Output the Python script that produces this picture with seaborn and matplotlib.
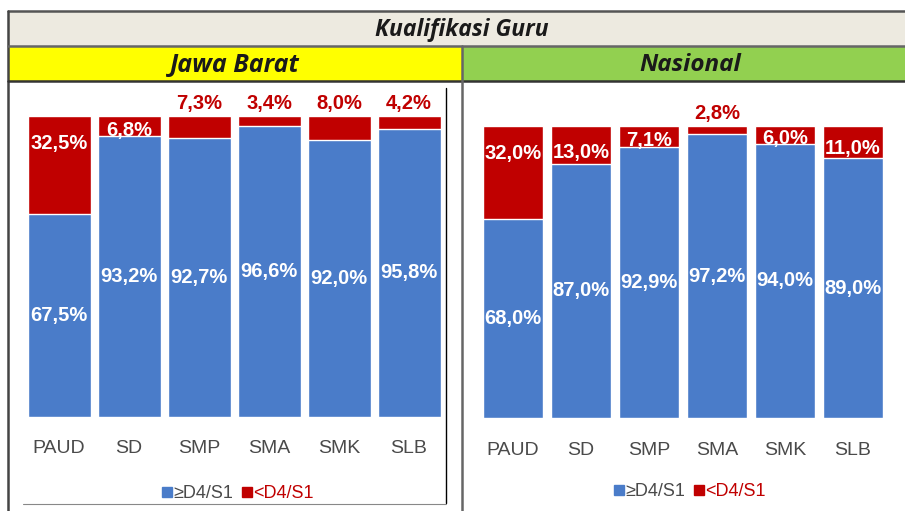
import matplotlib
matplotlib.use('Agg')
import matplotlib.pyplot as plt
from matplotlib.patches import Rectangle
from matplotlib.lines import Line2D
import seaborn as sns
import pandas as pd

# data
categories = ['PAUD', 'SD', 'SMP', 'SMA', 'SMK', 'SLB']
jabar_ge = [67.5, 93.2, 92.7, 96.6, 92.0, 95.8]
jabar_lt = [32.5, 6.8, 7.3, 3.4, 8.0, 4.2]
nas_ge = [68.0, 87.0, 92.9, 97.2, 94.0, 89.0]
nas_lt = [32.0, 13.0, 7.1, 2.8, 6.0, 11.0]
legend_labels = ['\u2265D4/S1', '<D4/S1']
title = 'Kualifikasi Guru'
panel_titles = ['Jawa Barat', 'Nasional']

# where the small red labels sit (above the bar or inside its top)
jabar_lt_above = [False, False, True, True, True, True]
nas_lt_above = [False, False, False, True, False, False]

BLUE = '#4A7CC9'
RED = '#C00000'
W, H = 905, 511
FONT = ['Liberation Sans Narrow', 'Liberation Sans', 'DejaVu Sans']
HEAD = ['Open Sans', 'DejaVu Sans']

sns.set_theme(style='white')
plt.rcParams['font.family'] = FONT

fig = plt.figure(figsize=(W / 100, H / 100), dpi=100)
fig.patch.set_facecolor('white')

# frame / header drawn in pixel coords
bg = fig.add_axes([0, 0, 1, 1], zorder=0)
bg.set_xlim(0, W)
bg.set_ylim(H, 0)
bg.axis('off')
bg.add_patch(Rectangle((8, 11), W, 35, facecolor='#EDEAE0', edgecolor='none'))
bg.add_patch(Rectangle((8, 46), 454, 35, facecolor='#FFFF00', edgecolor='none'))
bg.add_patch(Rectangle((462, 46), W - 462, 35, facecolor='#92D050', edgecolor='none'))
bg.plot([8, W], [11, 11], color='#555555', lw=1.8)
bg.plot([8, 8], [11, H], color='#444444', lw=1.8)
bg.plot([8, W], [46, 46], color='#666666', lw=1.8)
bg.plot([8, W], [81, 81], color='#333333', lw=1.8)
bg.plot([462, 462], [46, H], color='#666666', lw=1.8)
# edge of the pasted left picture
bg.plot([446, 446], [88, 503], color='black', lw=1)
bg.plot([23, 446], [504, 504], color='#888888', lw=0.8)
bg.text(462, 30, title, ha='center', va='center', fontsize=16.5,
        fontweight='bold', style='italic', color='#1a1a1a', family=HEAD)
bg.text(235, 65, panel_titles[0], ha='center', va='center', fontsize=18,
        fontweight='bold', style='italic', color='#1a1a1a', family=HEAD)
bg.text(690, 65, panel_titles[1], ha='center', va='center', fontsize=17.5,
        fontweight='bold', style='italic', color='#1a1a1a', family=HEAD)


def px_axes(x0, x1, ytop, ybot):
    return fig.add_axes([x0 / W, 1 - ybot / H, (x1 - x0) / W, (ybot - ytop) / H], zorder=2)


def panel(ax, ge, lt, above, bar_w, legend_xy):
    df = pd.DataFrame({'cat': categories, 'ge': ge, 'lt': lt})
    df['total'] = df['ge'] + df['lt']
    sns.barplot(data=df, x='cat', y='total', color=RED, saturation=1,
                width=bar_w, errorbar=None, ax=ax)
    sns.barplot(data=df, x='cat', y='ge', color=BLUE, saturation=1,
                width=bar_w, errorbar=None, ax=ax)
    ax.set_xlim(-0.5, len(categories) - 0.5)
    ax.set_ylim(0, 100)
    ax.set_facecolor('none')
    for s in ax.spines.values():
        s.set_visible(False)
    ax.set_yticks([])
    ax.set_xlabel('')
    ax.set_ylabel('')
    ax.tick_params(axis='x', length=0, pad=17, labelsize=14, colors='#4a4a4a')
    lab_font = dict(fontsize=14.5, fontweight='bold', family=FONT)
    px_per_unit = ax.bbox.height / 100
    for i, row in df.iterrows():
        ax.text(i, row['ge'] / 2, f"{row['ge']:.1f}%".replace('.', ','),
                ha='center', va='center', color='white', **lab_font)
        txt = f"{row['lt']:.1f}%".replace('.', ',')
        if above[i]:
            ax.annotate(txt, (i, row['total']), xytext=(0, 2), textcoords='offset points',
                        ha='center', va='bottom', color=RED, **lab_font)
        else:
            off_px = max(9, min(27, row['lt'] * px_per_unit * 0.7))
            ax.annotate(txt, (i, row['total']), xytext=(0, -off_px * 0.72),
                        textcoords='offset points', ha='center', va='center',
                        color='white', **lab_font)
    handles = [Line2D([], [], marker='s', ls='', color=BLUE, markersize=6.5),
               Line2D([], [], marker='s', ls='', color=RED, markersize=6.5)]
    leg = ax.legend(handles, legend_labels, loc='center',
                    bbox_to_anchor=(legend_xy[0] / W, 1 - legend_xy[1] / H),
                    bbox_transform=fig.transFigure, ncol=2, frameon=False,
                    handlelength=0.5, handletextpad=0.1, columnspacing=0.5,
                    prop={'family': FONT, 'size': 13})
    leg.get_texts()[0].set_color('#4a4a4a')
    leg.get_texts()[1].set_color(RED)


ax1 = px_axes(24, 444, 116, 416.5)
panel(ax1, jabar_ge, jabar_lt, jabar_lt_above, 0.9, (238, 494))
ax2 = px_axes(479, 887, 126, 418)
panel(ax2, nas_ge, nas_lt, nas_lt_above, 0.88, (690, 492))

fig.savefig('out.png', dpi=100)
